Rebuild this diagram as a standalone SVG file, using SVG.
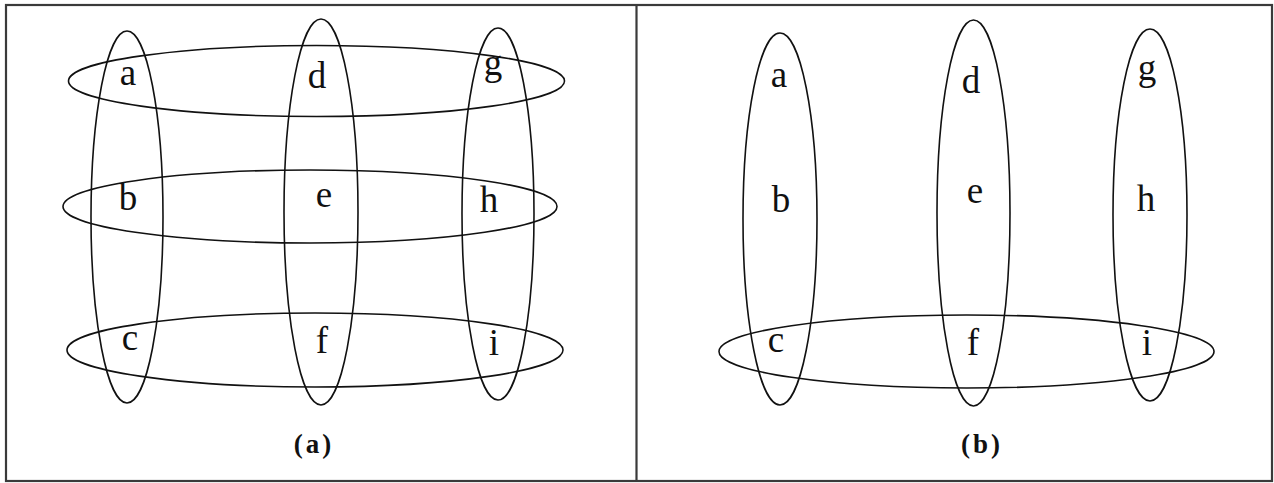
<svg xmlns="http://www.w3.org/2000/svg" width="1274" height="483" viewBox="0 0 1274 483">
<style>
.frame{fill:none;stroke:#3a3a3a;stroke-width:2.2}
.set{fill:none;stroke:#111;stroke-width:1.6}
.lbl{font-family:"Liberation Serif","Times New Roman",serif;font-size:37px;fill:#111;text-anchor:middle}
.cap{font-family:"Liberation Serif","Times New Roman",serif;font-size:27px;font-weight:bold;fill:#111;text-anchor:middle;letter-spacing:3px}
</style>
<rect width="1274" height="483" fill="#fff"/>
<g id="frame">
<rect class="frame" x="6" y="5" width="1266" height="476"/>
<line class="frame" x1="636.5" y1="5" x2="636.5" y2="481"/>
</g>
<g id="connectors"></g>
<g id="panel-a">
<g id="a-col1"><ellipse class="set" cx="127" cy="217" rx="36" ry="186"/></g>
<g id="a-col2"><ellipse class="set" cx="321" cy="212" rx="37" ry="193"/></g>
<g id="a-col3"><ellipse class="set" cx="498" cy="214" rx="36" ry="186"/></g>
<g id="a-row1"><ellipse class="set" cx="316.5" cy="81" rx="248" ry="35.5"/></g>
<g id="a-row2"><ellipse class="set" cx="310" cy="206.5" rx="247" ry="36.5"/></g>
<g id="a-row3"><ellipse class="set" cx="315" cy="350" rx="248" ry="37"/></g>
<g id="a-labels">
<text class="lbl" x="128" y="85">a</text>
<text class="lbl" x="317" y="88">d</text>
<text class="lbl" x="493" y="75">g</text>
<text class="lbl" x="128" y="210">b</text>
<text class="lbl" x="324" y="207">e</text>
<text class="lbl" x="489" y="212">h</text>
<text class="lbl" x="130" y="350">c</text>
<text class="lbl" x="322" y="353">f</text>
<text class="lbl" x="494" y="355">i</text>
</g>
<text id="cap-a" class="cap" x="314" y="453">(a)</text>
</g>
<g id="panel-b">
<g id="b-col1"><ellipse class="set" cx="780" cy="219" rx="37" ry="186"/></g>
<g id="b-col2"><ellipse class="set" cx="973.5" cy="213" rx="36.5" ry="193"/></g>
<g id="b-col3"><ellipse class="set" cx="1150" cy="215" rx="37" ry="186"/></g>
<g id="b-row3"><ellipse class="set" cx="966.5" cy="351.5" rx="247.5" ry="36.5"/></g>
<g id="b-labels">
<text class="lbl" x="779" y="87">a</text>
<text class="lbl" x="971" y="93">d</text>
<text class="lbl" x="1147" y="80">g</text>
<text class="lbl" x="781" y="212">b</text>
<text class="lbl" x="975" y="203">e</text>
<text class="lbl" x="1146" y="211">h</text>
<text class="lbl" x="776" y="352">c</text>
<text class="lbl" x="973" y="355">f</text>
<text class="lbl" x="1147" y="355">i</text>
</g>
<text id="cap-b" class="cap" x="982" y="453">(b)</text>
</g>
</svg>
